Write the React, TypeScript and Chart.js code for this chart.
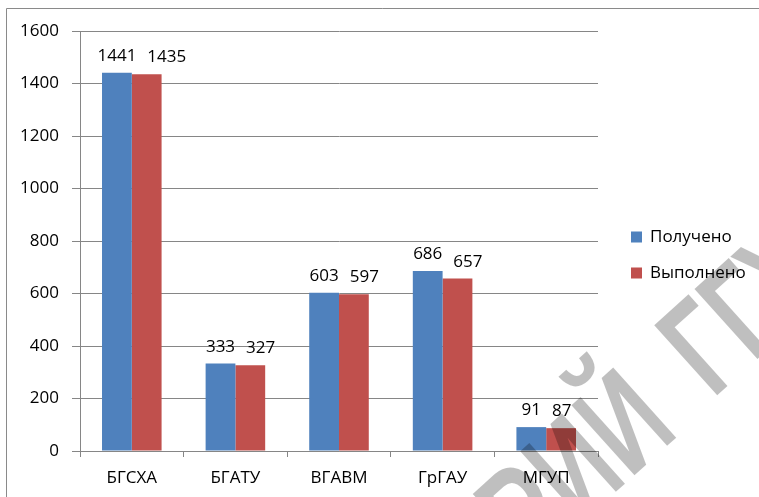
import React, { useEffect, useRef } from "react";
import { Chart, registerables } from "chart.js";

Chart.register(...registerables);

const categories = ["БГСХА", "БГАТУ", "ВГАВМ", "ГрГАУ", "МГУП"];
const received = [1441, 333, 603, 686, 91];
const completed = [1435, 327, 597, 657, 87];
const seriesNames = ["Получено", "Выполнено"];
const seriesColors = ["#4F81BD", "#C0504D"];
const yMin = 0;
const yMax = 1600;
const yStep = 200;
const watermarkHead = "РЕПОЗИТОРИЙ";
const watermarkTail = "ГГУ";

const FONT = "'Open Sans', sans-serif";
const GRID = "#868686";

const framePlugin = {
  id: "frame",
  beforeDraw(chart: any) {
    const ctx = chart.ctx;
    ctx.save();
    ctx.fillStyle = "#ffffff";
    ctx.fillRect(0, 0, chart.width, chart.height);
    ctx.strokeStyle = "#8a8a8a";
    ctx.lineWidth = 1;
    ctx.beginPath();
    ctx.moveTo(6.5, chart.height);
    ctx.lineTo(6.5, 8.5);
    ctx.lineTo(chart.width, 8.5);
    ctx.stroke();
    ctx.restore();
  },
};

const labelPlugin = {
  id: "valueLabels",
  afterDatasetsDraw(chart: any) {
    const ctx = chart.ctx;
    ctx.save();
    ctx.font = `17px ${FONT}`;
    ctx.fillStyle = "#000000";
    ctx.textAlign = "center";
    ctx.textBaseline = "alphabetic";
    const n = chart.data.labels.length;
    for (let i = 0; i < n; i++) {
      let prevRight = -Infinity;
      chart.data.datasets.forEach((ds: any, di: number) => {
        const bar: any = chart.getDatasetMeta(di).data[i];
        const txt = String(ds.data[i]);
        const w = ctx.measureText(txt).width;
        const cx = Math.max(bar.x, prevRight + 11 + w / 2);
        ctx.fillText(txt, cx, bar.y - 12);
        prevRight = cx + w / 2;
      });
    }
    ctx.restore();
  },
};

const legendPlugin = {
  id: "sideLegend",
  afterDraw(chart: any) {
    const ctx = chart.ctx;
    ctx.save();
    ctx.font = `17px ${FONT}`;
    ctx.textAlign = "left";
    ctx.textBaseline = "middle";
    chart.data.datasets.forEach((ds: any, di: number) => {
      const cy = 237 + di * 36;
      ctx.fillStyle = ds.backgroundColor;
      ctx.fillRect(631, cy - 5.5, 11, 11);
      ctx.fillStyle = "#000000";
      ctx.fillText(ds.label, 650, cy);
    });
    ctx.restore();
  },
};

const watermarkPlugin = {
  id: "watermark",
  afterDraw(chart: any) {
    const ctx = chart.ctx;
    const size = 137;
    const cap = 0.716 * size;
    const angle = (-42 * Math.PI) / 180;
    ctx.save();
    ctx.fillStyle = "rgba(0,0,0,0.25)";
    ctx.font = `bold ${size}px 'Liberation Sans', Arial, sans-serif`;
    ctx.textBaseline = "alphabetic";
    // tail part, anchored at the top-left corner of the first letter
    ctx.save();
    ctx.translate(653, 321);
    ctx.rotate(angle);
    ctx.scale(0.7, 1);
    ctx.textAlign = "left";
    ctx.fillText(watermarkTail, -12, cap);
    ctx.restore();
    // head part, anchored at the top-right corner of its last letter
    ctx.save();
    ctx.translate(609, 366);
    ctx.rotate(angle);
    ctx.scale(0.7, 1);
    ctx.textAlign = "right";
    ctx.fillText(watermarkHead, 12, cap);
    ctx.restore();
    ctx.restore();
  },
};

export default function App() {
  const ref = useRef<HTMLCanvasElement | null>(null);

  useEffect(() => {
    document.body.style.margin = "0";
    const canvas = ref.current;
    if (!canvas) return;
    const chart = new Chart(canvas, {
      type: "bar",
      data: {
        labels: categories,
        datasets: [
          {
            label: seriesNames[0],
            data: received,
            backgroundColor: seriesColors[0],
            categoryPercentage: 0.575,
            barPercentage: 1.0,
          },
          {
            label: seriesNames[1],
            data: completed,
            backgroundColor: seriesColors[1],
            categoryPercentage: 0.575,
            barPercentage: 1.0,
          },
        ],
      },
      options: {
        animation: false,
        responsive: false,
        maintainAspectRatio: false,
        devicePixelRatio: 1,
        layout: { padding: { left: 0, right: 161, top: 31, bottom: 0 } },
        plugins: {
          legend: { display: false },
          tooltip: { enabled: false },
        },
        scales: {
          x: {
            offset: true,
            grid: {
              display: true,
              drawOnChartArea: false,
              drawTicks: true,
              tickLength: 6,
              color: GRID,
              offset: true,
            },
            border: { display: true, color: GRID },
            ticks: {
              font: { family: FONT, size: 17 },
              color: "#000000",
              padding: 11,
              maxRotation: 0,
            },
            afterFit(scale: any) {
              scale.height = 46;
            },
          },
          y: {
            min: yMin,
            max: yMax,
            ticks: {
              stepSize: yStep,
              font: { family: FONT, size: 17 },
              color: "#000000",
              padding: 13,
              callback: (v: any) => String(v),
            },
            grid: {
              color: GRID,
              drawTicks: true,
              tickLength: 8,
            },
            border: { display: true, color: GRID },
            afterFit(scale: any) {
              scale.width = 80;
            },
          },
        },
      },
      plugins: [framePlugin, labelPlugin, legendPlugin, watermarkPlugin],
    });
    return () => chart.destroy();
  }, []);

  return <canvas ref={ref} width={759} height={497} style={{ display: "block" }} />;
}
